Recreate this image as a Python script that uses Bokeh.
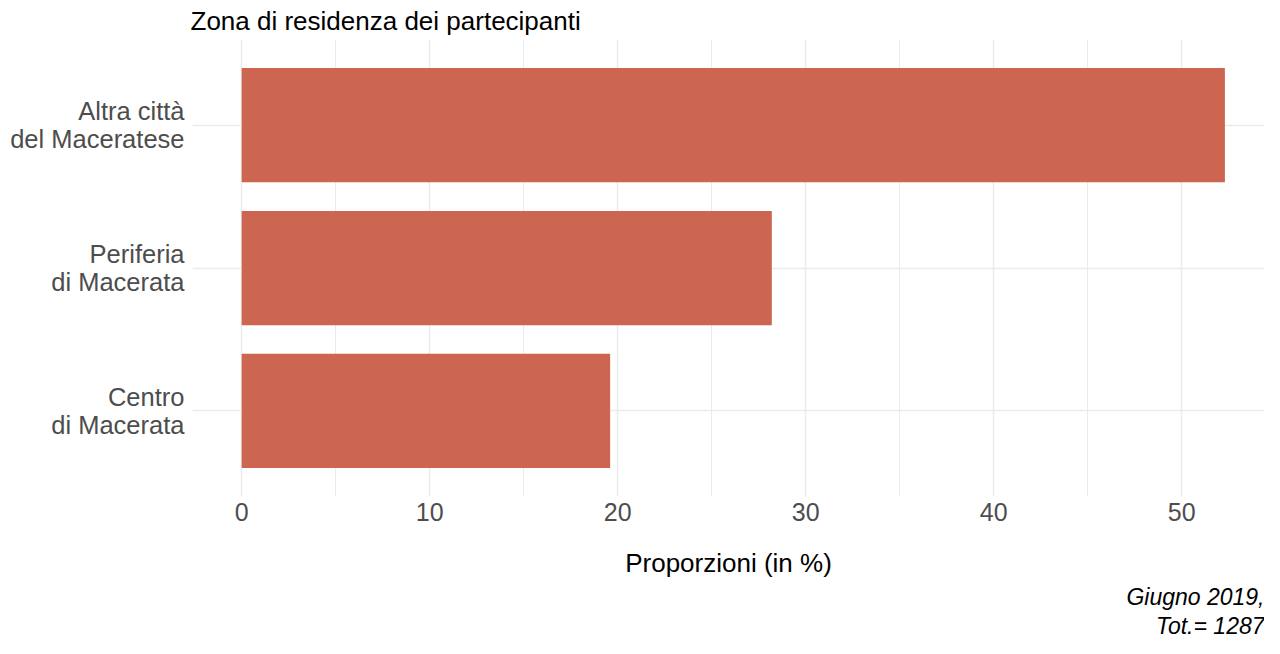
from bokeh.plotting import figure
from bokeh.models import Range1d, FactorRange, SingleIntervalTicker, Title
from bokeh.embed import file_html
from bokeh.resources import INLINE

categories = ["Centro\ndi Macerata", "Periferia\ndi Macerata", "Altra città\ndel Maceratese"]
values = [19.6, 28.2, 52.3]
title_text = "Zona di residenza dei partecipanti"
x_label = "Proporzioni (in %)"
caption_lines = ["Giugno 2019,", "Tot.= 1287"]

FONT = "Liberation Sans"
BAR = "#CC6650"
GRID = "#EBEBEB"
FS = "25.5px"

xmax = max(values)
pad = 0.05 * xmax

FL = 192
W, H = 1264, 638
frame_w = W - FL

p = figure(width=W, height=H, output_backend="svg", toolbar_location=None,
           x_range=Range1d(-pad, -pad + frame_w / 18.8),
           y_range=FactorRange(factors=categories, range_padding=0.1,
                               range_padding_units="absolute"),
           min_border_left=FL, min_border_right=0, min_border_top=0,
           min_border_bottom=0)
p.outline_line_color = None
p.background_fill_color = "white"
p.border_fill_color = "white"

p.hbar(y=categories, left=0, right=values, height=0.8, fill_color=BAR, line_color=None)

p.title.text = title_text
p.title.text_font = FONT
p.title.text_font_size = "26px"
p.title.text_font_style = "normal"
p.title.text_color = "black"
p.title.align = "left"
p.title.offset = -2
p.title.standoff = 7

# x axis
p.xaxis.ticker = SingleIntervalTicker(interval=10, num_minor_ticks=2)
p.xaxis.axis_label = x_label
p.xaxis.axis_label_text_font = FONT
p.xaxis.axis_label_text_font_size = "26px"
p.xaxis.axis_label_text_font_style = "normal"
p.xaxis.axis_label_text_color = "black"
p.xaxis.axis_label_standoff = 24
p.xaxis.major_label_text_font = FONT
p.xaxis.major_label_text_font_size = "25px"
p.xaxis.major_label_text_color = "#4D4D4D"
p.xaxis.major_label_standoff = 6

p.yaxis.major_label_text_font = FONT
p.yaxis.major_label_text_font_size = FS
p.yaxis.major_label_text_color = "#4D4D4D"
p.yaxis.major_label_text_line_height = 1.0
p.yaxis.major_label_standoff = 8

for ax in (p.xaxis, p.yaxis):
    ax.axis_line_color = None
    ax.major_tick_line_color = None
    ax.minor_tick_line_color = None
    ax.major_tick_out = 0
    ax.major_tick_in = 0
    ax.minor_tick_out = 0
    ax.minor_tick_in = 0

p.xgrid.grid_line_color = GRID
p.xgrid.grid_line_width = 1.5
p.xgrid.minor_grid_line_color = GRID
p.xgrid.minor_grid_line_width = 1
p.ygrid.grid_line_color = GRID
p.ygrid.grid_line_width = 1.5

for line, so in zip(caption_lines, [2, 0]):
    p.add_layout(Title(text=line, align="right", text_font=FONT, text_font_size="23px",
                       text_font_style="italic", text_color="black", standoff=so), "below")

open("out.html", "w").write(file_html(p, INLINE))
